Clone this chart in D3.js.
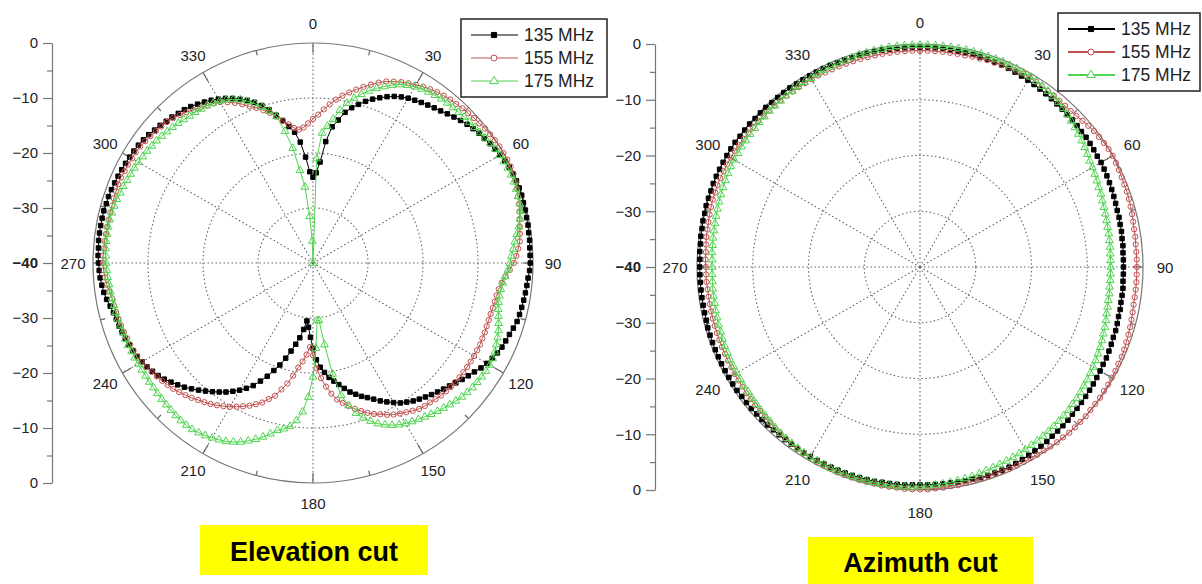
<!DOCTYPE html>
<html>
<head>
<meta charset="utf-8">
<script src="https://cdn.jsdelivr.net/npm/d3@7"></script>
<style>
  body { margin: 0; background: #fff; }
  svg { display: block; font-family: "Liberation Sans", Arial, sans-serif; }
</style>
</head>
<body>
<svg id="chart"></svg>
<script>
var width = 1202;
var height = 584;

// angles of the measured points, degrees clockwise from the top
var angleStep = 2;
var angles = d3.range(0, 360, angleStep);

var seriesNames = ['135 MHz', '155 MHz', '175 MHz'];
var seriesColors = ['#000000', '#c0504d', '#4fd44f'];
var angleLabels = [0, 30, 60, 90, 120, 150, 180, 210, 240, 270, 300, 330];
var ringValues = [-30, -20, -10];
var axisTicks = [0, 10, 20, 30, 40, 50, 60, 70, 80];
var axisMinor = [5, 15, 25, 35, 45, 55, 65, 75];
var captions = ['Elevation cut', 'Azimuth cut'];

// elevation cut, dB, one value every 2 degrees (0..358)
var elev135 = [
  -24.4,-23.6,-21.6,-17.8,-15.0,-13.6,-12.0,-10.9,-10.0,-9.1,-8.3,-7.6,-6.9,-6.3,-5.8,
  -5.4,-5.1,-4.8,-4.5,-4.2,-3.9,-3.5,-3.1,-2.7,-2.3,-2.0,-1.7,-1.5,-1.2,-1.0,
  -0.8,-0.5,-0.3,-0.2,-0.1,-0.1,-0.1,-0.2,-0.2,-0.3,-0.3,-0.4,-0.4,-0.5,-0.5,
  -0.5,-0.6,-0.8,-0.9,-1.0,-1.1,-1.2,-1.3,-1.4,-1.7,-2.0,-2.2,-2.4,-2.7,-3.1,
  -3.5,-4.0,-4.6,-5.1,-5.6,-6.1,-6.6,-7.0,-7.4,-7.8,-8.2,-8.6,-9.0,-9.5,-10.0,
  -10.7,-11.4,-12.1,-12.9,-13.6,-14.2,-14.9,-15.6,-16.5,-17.4,-18.2,-19.0,-20.0,-21.0,-22.4,
  -24.5,-26.5,-28.3,-29.4,-27.8,-26.2,-24.9,-23.5,-22.0,-20.5,-19.2,-17.8,-16.5,-15.2,-14.2,
  -13.3,-12.5,-11.7,-11.0,-10.3,-9.6,-8.9,-8.2,-7.5,-6.9,-6.3,-5.7,-5.2,-4.8,-4.4,
  -4.1,-3.8,-3.6,-3.4,-3.2,-3.0,-2.9,-2.8,-2.6,-2.3,-1.9,-1.6,-1.4,-1.2,-1.1,
  -1.0,-0.9,-0.9,-0.8,-0.8,-0.8,-0.8,-0.8,-0.9,-0.9,-1.0,-1.1,-1.2,-1.3,-1.4,
  -1.5,-1.6,-1.7,-1.9,-2.1,-2.4,-2.6,-2.9,-3.1,-3.4,-3.6,-3.9,-4.3,-4.7,-5.1,
  -5.6,-6.1,-6.7,-7.4,-8.1,-8.9,-9.9,-11.0,-12.3,-13.5,-14.8,-16.0,-17.9,-20.7,-23.4
];
var elev155 = [
  -13.8,-13.0,-12.0,-11.0,-10.0,-9.1,-8.3,-7.5,-6.7,-5.9,-5.1,-4.4,-3.9,-3.4,-3.0,
  -2.6,-2.2,-1.9,-1.6,-1.4,-1.2,-1.1,-0.9,-0.8,-0.6,-0.5,-0.3,-0.2,-0.1,0.0,
  0.0,0.0,0.0,-0.1,-0.3,-0.5,-0.8,-1.0,-1.3,-1.6,-1.8,-2.0,-2.2,-2.6,-3.0,
  -3.5,-4.2,-4.9,-5.5,-5.9,-6.1,-6.2,-6.3,-6.4,-6.4,-6.4,-6.3,-6.3,-6.2,-6.2,
  -6.2,-6.2,-6.2,-6.2,-6.2,-6.3,-6.3,-6.4,-6.5,-6.7,-6.9,-7.0,-7.2,-7.6,-8.0,
  -8.4,-8.8,-9.3,-9.9,-10.4,-11.0,-11.7,-12.4,-13.2,-14.0,-14.8,-16.0,-17.4,-19.0,-20.8,
  -23.2,-24.7,-23.3,-22.0,-20.8,-19.2,-17.6,-16.3,-14.9,-14.0,-13.0,-12.3,-11.6,-11.0,-10.4,
  -9.8,-9.3,-8.8,-8.3,-7.9,-7.5,-7.0,-6.6,-6.2,-5.8,-5.5,-5.2,-4.9,-4.6,-4.3,
  -4.0,-3.8,-3.7,-3.6,-3.5,-3.4,-3.3,-3.2,-3.1,-3.0,-2.9,-2.6,-2.3,-2.1,-1.9,
  -1.8,-1.8,-1.9,-1.9,-2.0,-2.0,-2.0,-2.0,-2.0,-1.9,-1.9,-1.8,-1.8,-1.9,-1.9,
  -2.0,-2.0,-2.1,-2.3,-2.5,-2.7,-2.9,-3.1,-3.4,-3.8,-4.2,-4.7,-5.1,-5.5,-5.8,
  -6.2,-6.9,-7.6,-8.4,-9.3,-10.0,-10.8,-11.6,-12.6,-13.6,-14.4,-15.2,-15.6,-15.3,-14.6
];
var elev175 = [
  -40.0,-21.0,-16.3,-15.0,-13.6,-11.8,-10.3,-9.1,-8.1,-7.1,-6.2,-5.4,-4.6,-3.9,-3.4,
  -3.0,-2.7,-2.5,-2.3,-2.1,-2.0,-2.0,-1.9,-1.8,-1.7,-1.6,-1.5,-1.3,-1.1,-0.9,
  -0.8,-0.7,-0.6,-0.6,-0.6,-0.7,-0.8,-0.9,-1.1,-1.5,-2.0,-2.6,-3.1,-3.5,-3.9,
  -4.2,-4.5,-5.0,-5.3,-5.5,-5.6,-5.5,-5.3,-4.9,-4.5,-4.1,-3.8,-3.5,-3.2,-3.0,
  -2.9,-2.9,-3.0,-3.1,-3.2,-3.4,-3.6,-3.9,-4.2,-4.5,-4.8,-5.1,-5.4,-5.7,-6.0,
  -6.3,-6.7,-7.2,-7.8,-8.5,-9.4,-10.4,-11.6,-13.3,-15.4,-19.5,-25.0,-29.5,-29.5,-24.5,
  -19.3,-15.6,-12.9,-11.2,-10.0,-9.4,-8.9,-8.0,-7.1,-6.3,-5.6,-4.9,-4.4,-3.9,-3.6,
  -3.3,-3.0,-2.8,-2.6,-2.6,-2.6,-2.7,-2.8,-2.9,-3.0,-3.1,-3.2,-3.2,-3.3,-3.3,
  -3.3,-3.3,-3.3,-3.2,-3.2,-3.2,-3.1,-3.1,-3.0,-3.0,-2.9,-2.8,-2.7,-2.6,-2.5,
  -2.4,-2.3,-2.2,-2.2,-2.2,-2.2,-2.2,-2.3,-2.4,-2.5,-2.7,-2.8,-3.0,-3.1,-3.2,
  -3.3,-3.5,-3.6,-3.8,-3.9,-4.1,-4.3,-4.5,-4.7,-4.9,-5.1,-5.2,-5.4,-5.5,-5.7,
  -6.0,-6.4,-6.9,-7.5,-8.3,-9.2,-10.2,-11.3,-12.5,-15.5,-18.8,-23.0,-26.1,-31.5,-36.0
];

// azimuth cut, dB, one value every 2 degrees (0..358)
var azim135 = [
  -0.6,-0.6,-0.6,-0.6,-0.7,-0.7,-0.7,-0.7,-0.8,-0.8,-0.9,-0.9,-1.0,-1.1,-1.2,
  -1.3,-1.4,-1.5,-1.6,-1.7,-1.8,-1.9,-2.0,-2.0,-2.1,-2.2,-2.2,-2.3,-2.4,-2.5,
  -2.5,-2.6,-2.7,-2.8,-2.9,-3.0,-3.1,-3.2,-3.2,-3.3,-3.3,-3.4,-3.4,-3.5,-3.5,
  -3.5,-3.5,-3.5,-3.4,-3.4,-3.4,-3.3,-3.3,-3.2,-3.1,-3.1,-3.0,-2.9,-2.8,-2.8,
  -2.7,-2.6,-2.5,-2.4,-2.3,-2.2,-2.1,-2.0,-1.8,-1.7,-1.6,-1.5,-1.3,-1.2,-1.1,
  -1.0,-0.9,-0.8,-0.7,-0.7,-0.7,-0.7,-0.7,-0.8,-0.8,-0.8,-0.9,-0.9,-0.9,-0.9,
  -0.9,-0.9,-0.8,-0.8,-0.8,-0.8,-0.7,-0.7,-0.7,-0.7,-0.7,-0.7,-0.7,-0.7,-0.7,
  -0.7,-0.7,-0.7,-0.7,-0.7,-0.7,-0.7,-0.6,-0.6,-0.6,-0.5,-0.5,-0.5,-0.4,-0.4,
  -0.4,-0.4,-0.4,-0.4,-0.4,-0.4,-0.4,-0.4,-0.5,-0.5,-0.5,-0.5,-0.5,-0.5,-0.5,
  -0.5,-0.5,-0.4,-0.4,-0.3,-0.3,-0.2,-0.2,-0.1,-0.1,-0.1,0.0,0.0,0.0,0.0,
  0.0,0.0,0.0,-0.1,-0.1,-0.1,-0.2,-0.2,-0.2,-0.3,-0.3,-0.3,-0.3,-0.4,-0.4,
  -0.4,-0.4,-0.4,-0.4,-0.5,-0.5,-0.5,-0.5,-0.5,-0.5,-0.5,-0.6,-0.6,-0.6,-0.6
];
var azim155 = [
  -1.2,-1.2,-1.2,-1.2,-1.2,-1.2,-1.2,-1.1,-1.1,-1.0,-1.0,-0.9,-0.8,-0.8,-0.7,
  -0.7,-0.8,-0.9,-1.0,-1.0,-1.1,-1.1,-1.1,-1.0,-0.8,-0.6,-0.4,-0.3,-0.2,-0.1,
  -0.1,-0.2,-0.3,-0.4,-0.5,-0.5,-0.6,-0.7,-0.8,-0.9,-1.0,-1.0,-1.1,-1.1,-1.1,
  -1.1,-1.1,-1.1,-1.1,-1.1,-1.1,-1.0,-0.9,-0.8,-0.7,-0.6,-0.5,-0.4,-0.4,-0.3,
  -0.3,-0.2,-0.2,-0.1,-0.1,-0.1,0.0,0.0,0.0,0.0,-0.1,-0.1,-0.2,-0.3,-0.3,
  -0.4,-0.4,-0.4,-0.4,-0.5,-0.5,-0.5,-0.5,-0.4,-0.4,-0.3,-0.3,-0.2,-0.2,-0.1,
  -0.1,-0.1,-0.1,-0.2,-0.2,-0.2,-0.3,-0.3,-0.3,-0.3,-0.3,-0.3,-0.4,-0.4,-0.4,
  -0.5,-0.6,-0.7,-0.8,-0.9,-1.0,-1.1,-1.2,-1.3,-1.4,-1.4,-1.5,-1.5,-1.6,-1.6,
  -1.6,-1.7,-1.7,-1.7,-1.7,-1.7,-1.7,-1.7,-1.7,-1.7,-1.7,-1.7,-1.7,-1.6,-1.6,
  -1.6,-1.5,-1.5,-1.4,-1.3,-1.3,-1.2,-1.1,-1.0,-0.9,-0.9,-0.8,-0.8,-0.8,-0.8,
  -0.8,-0.8,-0.8,-0.9,-0.9,-0.9,-0.9,-1.0,-1.0,-1.0,-1.0,-1.0,-1.1,-1.1,-1.1,
  -1.1,-1.1,-1.2,-1.2,-1.2,-1.2,-1.2,-1.2,-1.2,-1.2,-1.2,-1.2,-1.2,-1.2,-1.2
];
var azim175 = [
  -0.2,-0.2,-0.2,-0.2,-0.2,-0.2,-0.2,-0.2,-0.2,-0.3,-0.3,-0.3,-0.4,-0.4,-0.5,
  -0.6,-0.7,-0.9,-1.0,-1.2,-1.4,-1.7,-2.0,-2.3,-2.6,-2.9,-3.2,-3.5,-3.8,-4.1,
  -4.3,-4.5,-4.7,-4.9,-5.0,-5.2,-5.3,-5.4,-5.5,-5.6,-5.6,-5.7,-5.7,-5.8,-5.8,
  -5.8,-5.8,-5.8,-5.8,-5.7,-5.7,-5.6,-5.5,-5.3,-5.1,-5.0,-4.8,-4.6,-4.5,-4.3,
  -4.1,-4.0,-3.8,-3.7,-3.5,-3.3,-3.2,-3.0,-2.9,-2.8,-2.7,-2.6,-2.5,-2.4,-2.3,
  -2.2,-2.1,-2.0,-1.9,-1.8,-1.7,-1.6,-1.4,-1.3,-1.2,-1.1,-1.0,-0.9,-0.8,-0.7,
  -0.6,-0.5,-0.5,-0.5,-0.5,-0.5,-0.5,-0.5,-0.5,-0.5,-0.5,-0.5,-0.5,-0.6,-0.6,
  -0.6,-0.7,-0.8,-0.9,-1.0,-1.1,-1.2,-1.4,-1.5,-1.6,-1.7,-1.8,-1.9,-1.9,-2.0,
  -2.0,-2.1,-2.1,-2.2,-2.2,-2.3,-2.4,-2.4,-2.5,-2.5,-2.6,-2.6,-2.6,-2.7,-2.7,
  -2.7,-2.7,-2.6,-2.6,-2.5,-2.5,-2.4,-2.3,-2.2,-2.1,-2.0,-1.9,-1.8,-1.7,-1.6,
  -1.5,-1.5,-1.4,-1.4,-1.3,-1.3,-1.2,-1.2,-1.1,-1.1,-1.1,-1.0,-1.0,-0.9,-0.9,
  -0.9,-0.8,-0.7,-0.7,-0.6,-0.6,-0.5,-0.4,-0.4,-0.3,-0.3,-0.2,-0.2,-0.2,-0.2
];

var symbols = [d3.symbolSquare, d3.symbolCircle, d3.symbolTriangle];
var symbolSizes = [20, 22, 26];

var svg = d3.select('#chart')
    .attr('width', width)
    .attr('height', height);

svg.append('rect')
    .attr('width', width)
    .attr('height', height)
    .attr('fill', '#fff');

function rad(a) { return a * Math.PI / 180; }

//draw one polar plot with its radial axis on the left and its legend
function drawPolar(cfg) {
    var R = cfg.R;
    var r = d3.scaleLinear().domain([-40, 0]).range([0, R]);

    var g = svg.append('g')
        .attr('transform', 'translate(' + cfg.cx + ',' + cfg.cy + ')');

    // dotted rings and spokes
    g.selectAll('.ring')
        .data(ringValues)
        .enter()
        .append('circle')
        .attr('r', function (d) { return r(d); })
        .attr('fill', 'none')
        .attr('stroke', '#666')
        .attr('stroke-width', 1.1)
        .attr('stroke-dasharray', '1.5,2.5');

    g.selectAll('.spoke')
        .data(angleLabels)
        .enter()
        .append('line')
        .attr('x1', 0)
        .attr('y1', 0)
        .attr('x2', function (d) { return d3.pointRadial(rad(d), R)[0]; })
        .attr('y2', function (d) { return d3.pointRadial(rad(d), R)[1]; })
        .attr('stroke', '#666')
        .attr('stroke-width', 1.1)
        .attr('stroke-dasharray', '1.5,2.5');

    // outer circle with ticks pointing inward
    g.append('circle')
        .attr('r', R)
        .attr('fill', 'none')
        .attr('stroke', '#777')
        .attr('stroke-width', 1.2);

    var tickAngles = d3.range(0, 360, 15);
    g.selectAll('.tick')
        .data(tickAngles)
        .enter()
        .append('line')
        .attr('x1', function (d) { return d3.pointRadial(rad(d), R)[0]; })
        .attr('y1', function (d) { return d3.pointRadial(rad(d), R)[1]; })
        .attr('x2', function (d) { return d3.pointRadial(rad(d), R - (d % 30 === 0 ? 10 : 5))[0]; })
        .attr('y2', function (d) { return d3.pointRadial(rad(d), R - (d % 30 === 0 ? 10 : 5))[1]; })
        .attr('stroke', '#666')
        .attr('stroke-width', 1.2);

    g.selectAll('.alabel')
        .data(angleLabels)
        .enter()
        .append('text')
        .attr('x', function (d) { return d3.pointRadial(rad(d), R + cfg.labelGap)[0]; })
        .attr('y', function (d) { return d3.pointRadial(rad(d), R + cfg.labelGap)[1]; })
        .attr('text-anchor', 'middle')
        .attr('dominant-baseline', 'central')
        .attr('font-size', 15)
        .attr('fill', '#222')
        .text(function (d) { return d; });

    // the measured curves
    var line = d3.lineRadial()
        .angle(function (d) { return rad(d[0]); })
        .radius(function (d) { return r(d[1]); })
        .curve(d3.curveLinearClosed);

    cfg.series.forEach(function (vals, i) {
        var pts = angles.map(function (a, k) { return [a, vals[k]]; });
        var sg = g.append('g');
        sg.append('path')
            .attr('d', line(pts))
            .attr('fill', 'none')
            .attr('stroke', seriesColors[i])
            .attr('stroke-width', 1);
        sg.selectAll('path.mk')
            .data(pts)
            .enter()
            .append('path')
            .attr('class', 'mk')
            .attr('d', d3.symbol().type(symbols[i]).size(symbolSizes[i]))
            .attr('transform', function (d) {
                var p = d3.pointRadial(rad(d[0]), r(d[1]));
                return 'translate(' + p[0] + ',' + p[1] + ')';
            })
            .attr('fill', i === 0 ? seriesColors[i] : 'none')
            .attr('stroke', seriesColors[i])
            .attr('stroke-width', 1);
    });

    // radial axis drawn as a vertical scale: 0 .. -40 .. 0
    var y = d3.scaleLinear().domain([0, 80]).range([cfg.cy - R, cfg.cy + R]);
    var ax = svg.append('g')
        .attr('transform', 'translate(' + cfg.axisX + ',0)')
        .call(d3.axisLeft(y)
            .tickValues(axisTicks)
            .tickSize(9)
            .tickSizeOuter(0)
            .tickPadding(5)
            .tickFormat(function (d) { return d3.format('d')(-(40 - Math.abs(d - 40))); }));
    ax.select('.domain').attr('stroke', '#777').attr('stroke-width', 1.2);
    ax.selectAll('.tick line').attr('stroke', '#777').attr('stroke-width', 1.2);
    ax.selectAll('.tick text')
        .attr('font-size', 15)
        .attr('font-family', '"Liberation Sans", Arial, sans-serif')
        .attr('fill', '#222')
        .attr('font-weight', function (d) { return d === 40 ? 'bold' : 'normal'; });

    var axm = svg.append('g')
        .attr('transform', 'translate(' + cfg.axisX + ',0)')
        .call(d3.axisLeft(y).tickValues(axisMinor).tickSize(5).tickSizeOuter(0).tickFormat(''));
    axm.select('.domain').remove();
    axm.selectAll('.tick line').attr('stroke', '#777').attr('stroke-width', 1.2);

    // legend
    var lg = svg.append('g')
        .attr('transform', 'translate(' + cfg.legend[0] + ',' + cfg.legend[1] + ')');
    lg.append('rect')
        .attr('width', cfg.legend[2])
        .attr('height', 78)
        .attr('fill', '#fff')
        .attr('stroke', '#222')
        .attr('stroke-width', 1.5);
    seriesNames.forEach(function (name, i) {
        var yy = 16 + i * 23;
        lg.append('line')
            .attr('x1', 10).attr('x2', 57)
            .attr('y1', yy).attr('y2', yy)
            .attr('stroke', seriesColors[i])
            .attr('stroke-width', cfg.legendLine);
        lg.append('path')
            .attr('d', d3.symbol().type(symbols[i]).size(symbolSizes[i] + 6))
            .attr('transform', 'translate(33,' + yy + ')')
            .attr('fill', i === 0 ? seriesColors[i] : '#fff')
            .attr('stroke', seriesColors[i])
            .attr('stroke-width', 1);
        lg.append('text')
            .attr('x', 63)
            .attr('y', yy)
            .attr('dominant-baseline', 'central')
            .attr('font-size', 17.5)
            .attr('fill', '#222')
            .text(name);
    });

    // yellow caption
    svg.append('rect')
        .attr('x', cfg.caption[0])
        .attr('y', cfg.caption[1])
        .attr('width', cfg.caption[2])
        .attr('height', cfg.caption[3])
        .attr('fill', '#ffff00');
    svg.append('text')
        .attr('x', cfg.caption[0] + cfg.caption[2] / 2)
        .attr('y', cfg.caption[4])
        .attr('text-anchor', 'middle')
        .attr('font-size', 27)
        .attr('font-weight', 'bold')
        .attr('fill', '#000')
        .text(cfg.title);
}

drawPolar({
    cx: 313, cy: 263, R: 220, labelGap: 20, axisX: 52,
    series: [elev135, elev155, elev175],
    legend: [461, 19, 146], legendLine: 1,
    caption: [200, 525, 228, 50, 561],
    title: captions[0]
});

drawPolar({
    cx: 920, cy: 267, R: 223, labelGap: 22, axisX: 655,
    series: [azim135, azim155, azim175],
    legend: [1058, 13, 142], legendLine: 1.8,
    caption: [808, 537, 225, 60, 572],
    title: captions[1]
});
</script>
</body>
</html>
